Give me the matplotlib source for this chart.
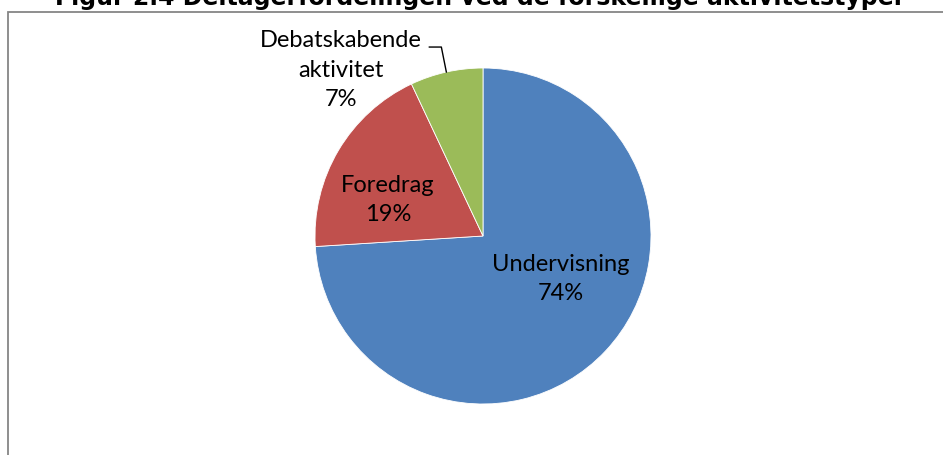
import numpy as np
import matplotlib
matplotlib.use('Agg')
import matplotlib.pyplot as plt
import matplotlib.patches as patches

# data
categories = ['Undervisning', 'Foredrag', 'Debatskabende\naktivitet']
shares = [74, 19, 7]
colors = ['#4F81BD', '#C0504D', '#9BBB59']
title = 'Figur 2.4 Deltagerfordelingen ved de forskellige aktivitetstyper'

W, H = 943, 455
fig = plt.figure(figsize=(W / 100, H / 100), dpi=100)
ax = fig.add_axes([0, 0, 1, 1])

# chart frame (only top and left edges are visible in the crop)
frame = patches.Rectangle((7.5, -50), W + 50, H - 11.5 + 50, fill=False,
                          edgecolor='#868686', linewidth=1.3)
ax.add_patch(frame)

cx, cy, R = 483, H - 236, 168
wedges, _ = ax.pie(shares, colors=colors, startangle=90, counterclock=False,
                   center=(cx, cy), radius=R, frame=True,
                   wedgeprops=dict(edgecolor='white', linewidth=0.6))
ax.set_xlim(0, W)
ax.set_ylim(0, H)
ax.axis('off')

# label placement: (radius fraction, angle tweak in degrees) per wedge
label_pos = [(0.53, 14.3), (0.605, 9.8), (1.30, 28.1)]
font = ['Lato', 'DejaVu Sans']
for w, name, val, (rf, dang) in zip(wedges, categories, shares, label_pos):
    mid = np.deg2rad((w.theta1 + w.theta2) / 2 + dang)
    tx, ty = cx + rf * R * np.cos(mid), cy + rf * R * np.sin(mid)
    ax.text(tx, ty, f'{name}\n{val}%', ha='center', va='center',
            fontsize=17, family=font, linespacing=1.5, color='black')

# leader line for the small outer label
wd = wedges[2]
mid = np.deg2rad((wd.theta1 + wd.theta2) / 2)
ex, ey = cx + R * np.cos(mid), cy + R * np.sin(mid)
ax.plot([ex, ex - 5, ex - 17], [ey, ey + 25, ey + 25], color='black', lw=1)

# title sits partly above the top edge, as in the source image
fig.text(480 / W, 1 - 5 / H, title, ha='center', va='baseline',
         fontsize=17, fontweight='bold', family='DejaVu Sans')

fig.savefig('out.png', dpi=100)
